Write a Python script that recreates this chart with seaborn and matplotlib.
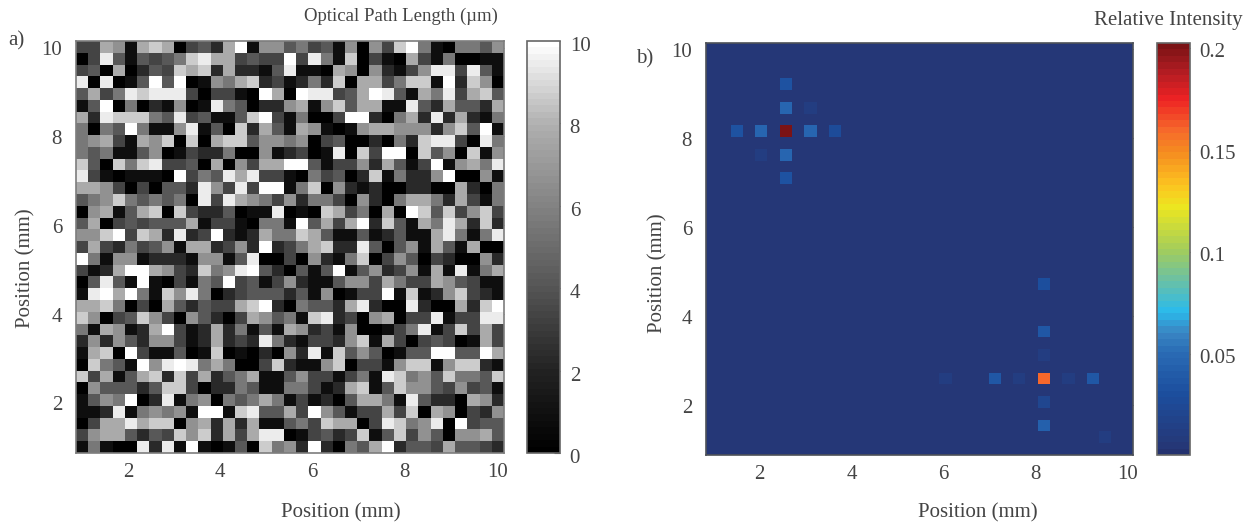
import numpy as np
import pandas as pd
import matplotlib

matplotlib.use("Agg")
import matplotlib.pyplot as plt
from matplotlib.colors import LinearSegmentedColormap
from matplotlib.transforms import ScaledTranslation
import seaborn as sn

path_left = [
    "337617870342" "7a1664", "039414345897" "73433a", "340702438782722149",
    "909014a4a016578231", "473598999303310a70", "14a050216019540226",
    "729888549341148a31", "5054a5116914082741", "567317680807884665",
    "545114601322500612", "84085893340706377a", "93101110a354979331",
    "776303044296393aa1", "456854545093976536", "067147808322401190",
    "470343444713310551", "668a3872923a212755", "373253461772362a23",
    "a51661222166149003", "3127aa76328569a420", "04941a103154a34136",
    "19a7a5186950234442", "778503074243378a20", "860348630642037645",
    "5176127a3127251417", "262642663127232952", "1780a3114018010206",
    "08541a69a957500382", "837147828372457114", "064442488302254115",
    "1465a0291560545751", "1129156561aa189447", "037797880672727114",
    "367742438682737990", "151009291a10140856",
]
path_right = [
    "53416063" "8a5105546", "39518031073150011", "11076062136993941",
    "252807735881a2860", "a99347a9417593784", "71684771194274427",
    "5003aa20572927215", "761016776662684a1", "60340020528993095",
    "3019083aa08460816", "a4133627413a16759", "053402815226a0061",
    "58062120022007205", "25530620577527315", "108735070a8483683",
    "a4737a28417597282", "87411412411795159", "57822940461741700",
    "06215803640320062", "414a1462361719157", "21146637533764311",
    "4160133a181268321", "5442792009200728a", "18923067033913399",
    "62316001359138373", "13326817303430173", "29184640144aa44a7",
    "11680331688168821", "63313519856485548", "53127814866436341",
    "31204775194220762", "3a641337380760326", "5387703985690a344",
    "13423814836406674", "2a20547a244374432",
]
# optical path length in um for each grey level
path_levels = [0.0, 0.9, 2.2, 3.4, 4.2, 5.6, 6.7, 7.8, 8.7, 9.4, 10.0]

# panel b: the spots above the flat background
spot_rows = [7, 7, 7, 7, 7, 3, 5, 9, 11, 5, 9,
             28, 28, 28, 28, 28, 28, 20, 24, 26, 30, 32, 33]
spot_cols = [6, 2, 4, 8, 10, 6, 6, 6, 6, 8, 4,
             27, 23, 25, 29, 31, 19, 27, 27, 27, 27, 27, 32]
spot_vals = [0.2, 0.035, 0.045, 0.045, 0.028, 0.035, 0.045, 0.045, 0.035, 0.012, 0.012,
             0.16, 0.038, 0.012, 0.012, 0.038, 0.01, 0.032, 0.038, 0.012, 0.022, 0.042, 0.01]
background = 0.004

ticks_mm = [2, 4, 6, 8, 10]
path_ticks = [0, 2, 4, 6, 8, 10]
intensity_ticks = [0.05, 0.1, 0.15, 0.2]
intensity_labels = ["0.05", "0.1", "0.15", "0.2"]

W, H = 1256, 527
GREY_TEXT = "#444444"


def box(x0, y0, x1, y1):
    # pixel box measured from the top left -> figure fractions
    return [x0 / W, 1 - y1 / H, (x1 - x0) / W, (y1 - y0) / H]


def px_text(fig, x, y, s, **kw):
    fig.text(x / W, 1 - y / H, s, color=GREY_TEXT, va="center", **kw)


def nudge_down(labels, pixels, fig):
    # the reference tick labels sit a little below their ticks
    shift = ScaledTranslation(0, -pixels / 100, fig.dpi_scale_trans)
    for label in labels:
        label.set_transform(label.get_transform() + shift)


def style_axis(ax, x_start, x_stop, y_start, y_stop, frame, xlabel_px, ylabel_px, shift, n_x=35):
    # n_x below 35 crops the last column a little, as the right panel does
    n = 35
    ax.set_xlim(0, n_x)
    ax.set_xticks([(t - x_start) / (x_stop - x_start) * n_x for t in ticks_mm])
    ax.set_yticks([(y_stop - t) / (y_stop - y_start) * n for t in ticks_mm])
    ax.set_xticklabels(ticks_mm, rotation=0)
    ax.set_yticklabels(ticks_mm, rotation=0)
    ax.tick_params(direction="in", length=4, width=0.8, color=frame, top=True, right=True,
                   labelcolor=GREY_TEXT, labelsize=15)
    ax.tick_params(axis="x", pad=7)
    ax.tick_params(axis="y", pad=10)
    nudge_down(ax.get_yticklabels(), shift, ax.figure)
    for spine in ax.spines.values():
        spine.set_visible(True)
        spine.set_color(frame)
        spine.set_linewidth(1.2)
    ax.set_xlabel("Position (mm)", fontsize=15, color=GREY_TEXT)
    ax.set_ylabel("Position (mm)", fontsize=15, color=GREY_TEXT)
    ax.xaxis.set_label_coords(*xlabel_px, transform=ax.figure.transFigure)
    ax.yaxis.set_label_coords(*ylabel_px, transform=ax.figure.transFigure)


def style_cbar(ax, cax, ticks, labels, shift):
    cb = ax.collections[0].colorbar
    cb.set_ticks(ticks)
    cb.set_ticklabels(labels)
    cb.outline.set_visible(True)
    cb.outline.set_edgecolor("#666666")
    cb.outline.set_linewidth(1.2)
    cax.tick_params(direction="in", length=4, width=0.8, color="#555555",
                    labelcolor=GREY_TEXT, labelsize=15, pad=7)
    nudge_down(cax.get_yticklabels(), shift, ax.figure)


sn.set_theme(style="white")
plt.rcParams["font.family"] = ["Liberation Serif", "DejaVu Serif"]

digits = "0123456789a"
path_grid = np.array(
    [[path_levels[digits.index(c)] for c in a + b] for a, b in zip(path_left, path_right)]
)
intensity_grid = np.full((35, 35), background)
intensity_grid[spot_rows, spot_cols] = spot_vals

grey_map = LinearSegmentedColormap.from_list(
    "path_grey",
    [(0.0, "#000000"), (0.2, "#232323"), (0.4, "#555555"), (0.6, "#828282"),
     (0.8, "#afafaf"), (1.0, "#ffffff")],
    N=64,
)
lo, hi = 0.0005, 0.2025
intensity_map = LinearSegmentedColormap.from_list(
    "intensity",
    [(0.0, "#24326f"), ((0.004 - lo) / (hi - lo), "#253878"), (0.03 / hi, "#1c4f9f"),
     (0.05 / hi, "#2a6cb5"), (0.06 / hi, "#3a87c4"), (0.07 / hi, "#2abbec"),
     (0.085 / hi, "#68c0a8"), (0.1 / hi, "#a0cc5e"), (0.122 / hi, "#ece620"),
     (0.133 / hi, "#fcc420"), (0.15 / hi, "#f58a20"), (0.16 / hi, "#f66b2b"),
     (0.176 / hi, "#ee2224"), (0.19 / hi, "#b01c22"), (1.0, "#7b1315")],
    N=64,
)

fig = plt.figure(figsize=(W / 100, H / 100), dpi=100, facecolor="white")

ax_a = fig.add_axes(box(76, 41, 504, 453))
cax_a = fig.add_axes(box(527, 41, 560, 453))
sn.heatmap(pd.DataFrame(path_grid), ax=ax_a, cbar_ax=cax_a, cmap=grey_map, vmin=0, vmax=10)
style_axis(ax_a, 0.873, 10.15, 0.87, 10.15, "#7d7d7d",
           (341 / W, 1 - 503 / H), (35 / W, 1 - 268 / H), 3)
style_cbar(ax_a, cax_a, path_ticks, path_ticks, 3)

ax_b = fig.add_axes(box(706, 43, 1133, 455))
cax_b = fig.add_axes(box(1157, 43, 1190, 455))
sn.heatmap(pd.DataFrame(intensity_grid), ax=ax_b, cbar_ax=cax_b, cmap=intensity_map, vmin=lo, vmax=hi)
style_axis(ax_b, 0.844, 10.11, 0.876, 10.13, "#4d5158",
           (978 / W, 1 - 503 / H), (667 / W, 1 - 273 / H), 4, n_x=34.76)
style_cbar(ax_b, cax_b, intensity_ticks, intensity_labels, 2)

px_text(fig, 8, 41, "a)", fontsize=15)
px_text(fig, 636, 59, "b)", fontsize=15)
px_text(fig, 401, 16, "Optical Path Length (µm)", fontsize=13.5, ha="center")
px_text(fig, 1168, 21, "Relative Intensity", fontsize=15, ha="center")

fig.savefig("out.png", dpi=100, facecolor="white")
